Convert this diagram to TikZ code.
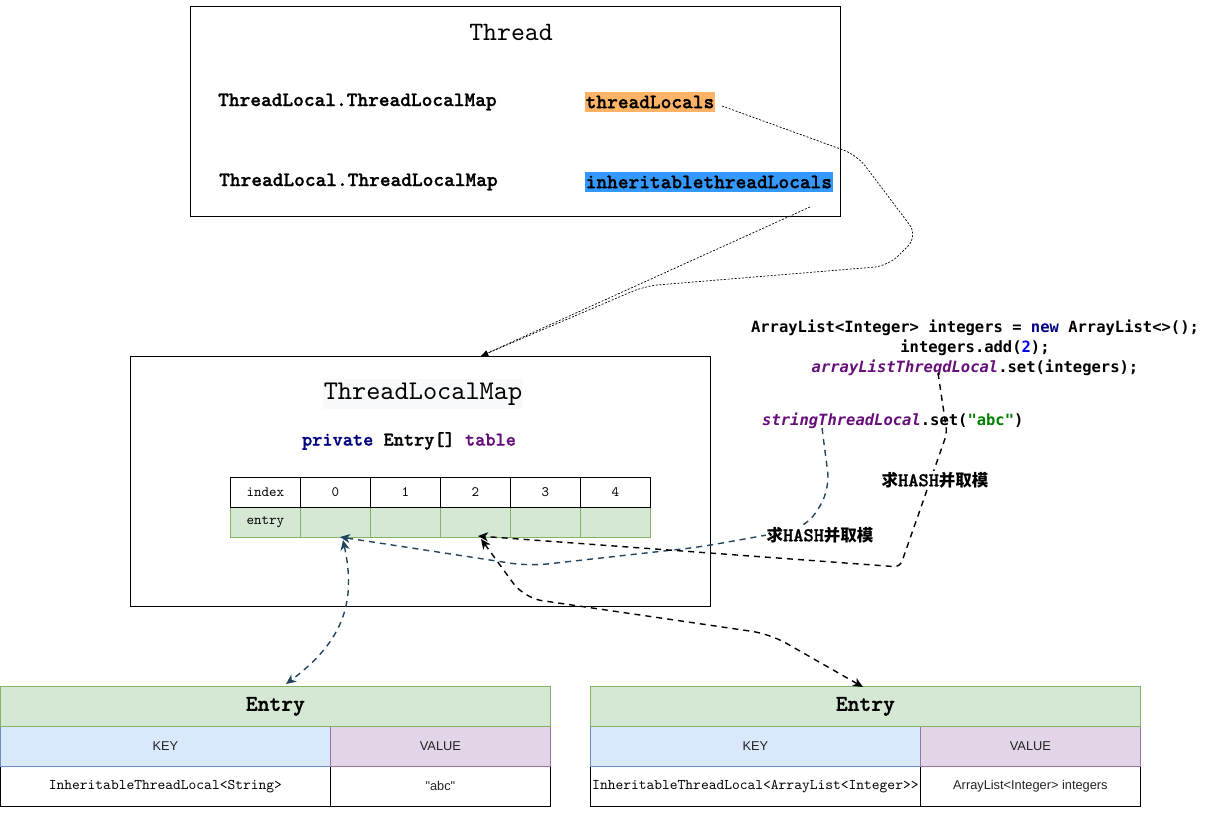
\documentclass[tikz,border=0pt]{standalone}
\usepackage{fontspec}
\usetikzlibrary{arrows.meta}
\newfontfamily\cour[BoldFont=lmmonolt10-bold.otf, BoldFeatures={FakeBold=1.2}]{lmmono10-regular.otf}
\newfontfamily\dmono{DejaVu Sans Mono}
\newfontfamily\cjk{Noto Sans CJK SC}
\newfontfamily\lsans{Liberation Sans}
\newcommand\setfs[1]{\fontsize{#1}{#1}\selectfont}
\definecolor{gfill}{HTML}{D5E8D4}
\definecolor{gline}{HTML}{82B366}
\definecolor{bfill}{HTML}{DAE8FC}
\definecolor{bline}{HTML}{6C8EBF}
\definecolor{pfill}{HTML}{E1D5E7}
\definecolor{pline}{HTML}{9673A6}
\definecolor{orangehl}{HTML}{FFB366}
\definecolor{bluehl}{HTML}{3399FF}
\definecolor{edgeblue}{HTML}{23445D}
\definecolor{navykw}{HTML}{000080}
\definecolor{purplekw}{HTML}{660E7A}
\definecolor{greenstr}{HTML}{008000}
\definecolor{numblue}{HTML}{0000FF}
\definecolor{titlebg}{HTML}{F8F9FA}
\definecolor{softtext}{HTML}{222222}
\tikzset{hashtip/.tip={Stealth[length=10pt,width=9pt,inset=3pt]}}
\begin{document}
\begin{tikzpicture}[x=1pt,y=-1pt,
  box/.style={draw=black, line width=0.9pt, inner sep=0, anchor=north west},
  txt/.style={inner sep=0},
  cell/.style={draw=black, line width=0.7pt, minimum width=70pt, minimum height=30pt, inner sep=0, anchor=north west, font=\cour\setfs{14.3}},
  gcell/.style={cell, draw=gline, fill=gfill},
  ecell/.style={line width=0.8pt, minimum height=40pt, inner sep=0, anchor=north west},
  sanscell/.style={ecell, text=softtext, font=\lsans\setfs{12.8}},
  code/.style={inner sep=0, font=\dmono\bfseries\setfs{15.5}},
  thin dotted edge/.style={line width=0.7pt, dash pattern=on 2pt off 1.6pt, rounded corners=14pt, -{Latex[length=7pt,width=6pt]}},
  hash edge/.style={line width=1.4pt, dash pattern=on 6pt off 5pt, rounded corners=18pt},
  hashlabel/.style={fill=white, inner sep=1pt}
]
\useasboundingbox (0,0) rectangle (1211,813);

% ---------- Thread box ----------
\node[box, minimum width=650pt, minimum height=210pt] (thread) at (190,6) {};
\node[txt, font=\cour\setfs{26.5}] (threadtitle) at (511,32) {Thread};
\node[txt, anchor=west, font=\cour\bfseries\setfs{20.4}] (tlm1) at (218,102) {ThreadLocal.ThreadLocalMap};
\node[txt, anchor=west, font=\cour\bfseries\setfs{20.4}] (tlm2) at (219,182) {ThreadLocal.ThreadLocalMap};
\node[anchor=west, fill=orangehl, inner xsep=0.5pt, minimum height=19pt, font=\cour\bfseries\setfs{20.4}] (tl) at (585,102) {threadLocals};
\node[anchor=west, fill=bluehl, inner xsep=0.5pt, minimum height=20pt, font=\cour\bfseries\setfs{20.4}] (itl) at (585,182) {inheritablethreadLocals};

% ---------- ThreadLocalMap box ----------
\node[box, minimum width=580pt, minimum height=250pt] (map) at (130,356) {};
\node[fill=titlebg, inner xsep=1pt, minimum height=29pt, font=\cour\setfs{27}] (maptitle) at (423,394) {ThreadLocalMap};
\node[txt, font=\cour\bfseries\setfs{19.4}] (tabledecl) at (409,441) {{\color{navykw}private} Entry[] {\color{purplekw}table}};

% table
\node[gcell] (ent) at (230,507) {entry};
\node[gcell] (e0) at (300,507) {};
\node[gcell] (e1) at (370,507) {};
\node[gcell] (e2) at (440,507) {};
\node[gcell] (e3) at (510,507) {};
\node[gcell] (e4) at (580,507) {};
\node[cell] (idx) at (230,477) {index};
\node[cell] (i0) at (300,477) {0};
\node[cell] (i1) at (370,477) {1};
\node[cell] (i2) at (440,477) {2};
\node[cell] (i3) at (510,477) {3};
\node[cell] (i4) at (580,477) {4};

% ---------- Entry tables ----------
\node[ecell, draw=black, minimum width=330pt, font=\cour\setfs{14.8}] (lk) at (0,766) {InheritableThreadLocal<String>};
\node[sanscell, draw=black, minimum width=220pt] (lv) at (330,766) {"abc"};
\node[sanscell, draw=bline, fill=bfill, minimum width=330pt] (lkh) at (0,726) {KEY};
\node[sanscell, draw=pline, fill=pfill, minimum width=220pt] (lvh) at (330,726) {VALUE};
\node[ecell, draw=gline, fill=gfill, minimum width=550pt, font=\cour\bfseries\setfs{22.5}] (lent) at (0,686) {Entry};

\node[ecell, draw=black, minimum width=330pt, font=\cour\setfs{14.8}] (rk) at (590,766) {InheritableThreadLocal<ArrayList<Integer>>};
\node[sanscell, draw=black, minimum width=220pt] (rv) at (920,766) {ArrayList<Integer> integers};
\node[sanscell, draw=bline, fill=bfill, minimum width=330pt] (rkh) at (590,726) {KEY};
\node[sanscell, draw=pline, fill=pfill, minimum width=220pt] (rvh) at (920,726) {VALUE};
\node[ecell, draw=gline, fill=gfill, minimum width=550pt, font=\cour\bfseries\setfs{22.5}] (rent) at (590,686) {Entry};

% ---------- code text ----------
\node[code] (code1) at (975,328) {ArrayList<Integer> integers = {\color{navykw}new} ArrayList<>();};
\node[code] (code2) at (975,348) {integers.add({\color{numblue}2});};
\node[code] (code3) at (975,368) {{\color{purplekw}\itshape arrayListThreqdLocal}.set(integers);};
\node[code, anchor=west] (code4) at (762,421) {{\color{purplekw}\itshape stringThreadLocal}.set({\color{greenstr}"abc"})};

% ---------- coordinates ----------
\coordinate (tlout) at (722,106);
\coordinate (itlout) at (810,207);
\coordinate (mapin) at (481,356);
\coordinate (strout) at (822,428);
\coordinate (arrout) at (938,373);
\coordinate (slot0) at (340,537);
\coordinate (slot2) at (478,536);
\coordinate (slot0b) at (343,540);
\coordinate (slot2b) at (481,539);
\coordinate (lentin) at (286,684);
\coordinate (rentin) at (863,687);

% ---------- thin dotted edges ----------
\draw[thin dotted edge] (tlout) -- (857,155) -- (918,236) -- (888,266) -- (645,286) -- (mapin);
\draw[thin dotted edge, rounded corners=0pt] (itlout) -- (mapin);

% ---------- hash edges ----------
\draw[hash edge, edgeblue, -{hashtip}] (strout) -- (830,490) -- (806,528) -- (700,547) -- (529,566) -- (slot0);
\node[hashlabel] (h1) at (820,535) {{\cjk\bfseries\setfs{16.5}求}{\cour\bfseries\setfs{19.5}HASH}{\cjk\bfseries\setfs{16.5}并取模}};
\draw[hash edge, black, -{hashtip}, rounded corners=6pt] (arrout) -- (947,433) -- (900,567) -- (slot2);
\node[hashlabel] (h2) at (935,480) {{\cjk\bfseries\setfs{16.5}求}{\cour\bfseries\setfs{19.5}HASH}{\cjk\bfseries\setfs{16.5}并取模}};

% ---------- slot to entry edges ----------
\draw[hash edge, edgeblue, {hashtip}-{hashtip}] (slot0b) .. controls (356,600) and (345,640) .. (lentin);
\draw[hash edge, black, {hashtip}-{hashtip}] (slot2b) -- (524,598) -- (770,634) -- (rentin);
\end{tikzpicture}
\end{document}
